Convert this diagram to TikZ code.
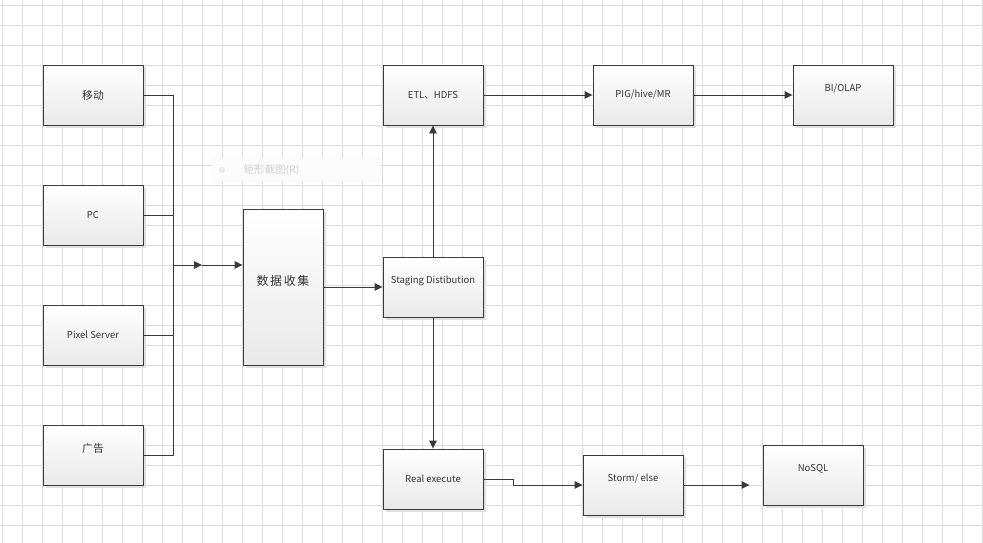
\documentclass[tikz,border=0pt]{standalone}
\usepackage{fontspec}
\setmainfont{Noto Sans CJK SC}
\usetikzlibrary{arrows.meta,shadows}
\definecolor{gridc}{HTML}{DCDCDC}
\definecolor{linec}{HTML}{3A3A3A}
\definecolor{boxbot}{HTML}{E9E9E9}
\definecolor{txtc}{HTML}{333333}
\newcommand{\cjksz}{\fontsize{10.8}{12}\selectfont}
\begin{document}
\begin{tikzpicture}[x=1pt,y=-1pt,
  box/.style={draw=linec, line width=0.9pt, top color=white, bottom color=boxbot,
    minimum width=100pt, minimum height=60pt, inner sep=0pt, text=txtc,
    font=\fontsize{9.5}{11}\selectfont,
    drop shadow={shadow xshift=2.5pt, shadow yshift=-2.5pt, fill=black!12, opacity=1}},
  conn/.style={draw=linec, line width=0.9pt},
  arr/.style={conn, -{Triangle[length=8pt,width=7.5pt]}}]
\useasboundingbox (0,0) rectangle (983,543);
\fill[white] (0,0) rectangle (983,543);
\foreach \x in {2.5,22.5,...,982.5} \draw[gridc, line width=0.8pt] (\x,0) -- (\x,543);
\foreach \y in {5,25,...,545} \draw[gridc, line width=0.8pt] (0,\y) -- (983,\y);

% faint screenshot-tool ghost
\draw[black!4, fill=black!1, rounded corners=2pt] (212,158) rectangle (380,181);
\fill[black!8] (222,170) circle (3.2pt);
\node[text=black!18, font=\fontsize{10.5}{12}\selectfont, anchor=west] (ghost) at (240,170) {矩形截图(R)};

% sources
\node[box] (m)  at (93,95)  {\cjksz 移动};
\node[box] (pc) at (93,215) {PC};
\node[box] (px) at (93,335) {Pixel Server};
\node[box] (ad) at (93,455) {\raisebox{14pt}{\cjksz 广告}};

\node[box, minimum width=80pt, minimum height=156pt] (col) at (283,287)
  {\raisebox{14pt}{\fontsize{12}{13}\selectfont 数\kern1.6pt 据\kern1.6pt 收\kern1.6pt 集}};
\node[box] (st) at (433,287) {\raisebox{14pt}{Staging Distibution}};
\node[box] (etl) at (433,95) {ETL、HDFS};
\node[box] (pig) at (643,95) {PIG/hive/MR};
\node[box] (bi)  at (843,95) {\raisebox{14pt}{BI/OLAP}};
\node[box] (re)  at (433,479) {Real execute};
\node[box] (sto) at (633,485) {\raisebox{14pt}{Storm/ else}};
\node[box] (no)  at (813,475) {\raisebox{14pt}{NoSQL}};

% bus
\coordinate (j1) at (173,95);
\coordinate (j4) at (173,455);
\coordinate (jm) at (173,265);
\coordinate (jmid) at (202,265);
\draw[conn] (m.east) -- (j1) -- (j4) -- (ad.east);
\draw[conn] (pc.east) -- (pc.east -| j1);
\draw[conn] (px.east) -- (px.east -| j1);
\draw[arr] (jm) -- (jmid);
\draw[arr] (jmid) -- (col.west |- jm);

\draw[arr] (col.east |- st.west) -- (st.west);
\draw[arr] (st.north) -- (etl.south);
\draw[arr] (st.south) -- (re.north);
\draw[arr] (etl.east) -- (pig.west);
\draw[arr] (pig.east) -- (bi.west);
\draw[arr] (re.east) -- ++(29.5,0) |- (sto.west);
\draw[arr, shorten >=13pt] (sto.east) -- (sto.east -| no.west);
\end{tikzpicture}
\end{document}
